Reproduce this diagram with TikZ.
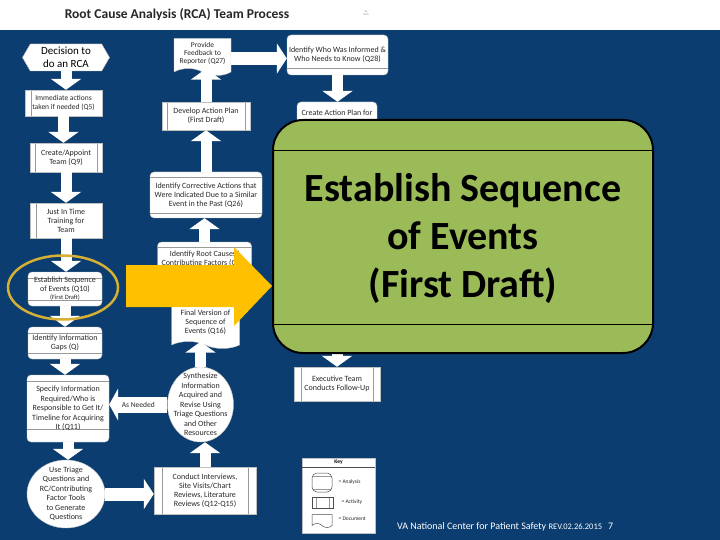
\documentclass[tikz,border=0pt]{standalone}
\usepackage{fontspec}
\setmainfont{Carlito}
\usetikzlibrary{shapes.symbols,shapes.geometric,arrows.meta,calc}
\definecolor{bgblue}{RGB}{11,61,112}
\definecolor{olivegreen}{RGB}{155,187,89}
\definecolor{goldarrow}{RGB}{255,192,0}
\definecolor{ringc}{RGB}{214,176,52}
\definecolor{txt}{RGB}{40,40,40}
\tikzset{
  box/.style={fill=white, draw=gray!50, line width=0.4pt, inner sep=1pt, font=\fontsize{8}{9}\selectfont, text=txt, align=center},
  activity/.style={box, rectangle, path picture={\draw[gray!80,line width=0.5pt]
     ([xshift=#1]path picture bounding box.north west) -- ([xshift=#1]path picture bounding box.south west)
     ([xshift=-#1]path picture bounding box.north east) -- ([xshift=-#1]path picture bounding box.south east);}},
  activity/.default=5pt,
  activityl/.style={box, rectangle, path picture={\draw[gray!80,line width=0.5pt]
     ([xshift=#1]path picture bounding box.north west) -- ([xshift=#1]path picture bounding box.south west);}},
  activityl/.default=6pt,
  analysis/.style={box, rounded corners=4pt, path picture={\draw[gray!80,line width=0.5pt]
     ([yshift=-#1]path picture bounding box.north west) -- ([yshift=-#1]path picture bounding box.north east)
     ([yshift=#1]path picture bounding box.south west) -- ([yshift=#1]path picture bounding box.south east);}},
  analysis/.default=6pt,
  analysistb/.style 2 args={box, rounded corners=4pt, path picture={\draw[gray!80,line width=0.5pt]
     ([yshift=-#1]path picture bounding box.north west) -- ([yshift=-#1]path picture bounding box.north east)
     ([yshift=#2]path picture bounding box.south west) -- ([yshift=#2]path picture bounding box.south east);}},
  analysisb/.style={box, rounded corners=4pt, path picture={\draw[gray!80,line width=0.5pt]
     ([yshift=#1]path picture bounding box.south west) -- ([yshift=#1]path picture bounding box.south east);}},
  docshape/.style={box, tape, tape bend top=none, tape bend bottom=out and in, tape bend height=7pt},
  ell/.style={fill=white, draw=gray!50, line width=0.4pt, ellipse, inner sep=0pt},
  celltext/.style={font=\fontsize{8}{9.5}\selectfont, text=txt, align=center, inner sep=0pt},
  hexa/.style={box, signal, signal to=west and east, signal pointer angle=120, font=\fontsize{11}{12.5}\selectfont, text=black},
  varrow/.style={draw=white, line width=11pt, -{Triangle[width=30pt,length=11pt]}},
  harrow/.style={draw=white, line width=13pt, -{Triangle[width=30pt,length=10pt]}},
  needarrow/.style={draw=white, line width=16pt, -{Triangle[width=32pt,length=9pt]}},
  keysym/.style={draw=black!70, line width=0.5pt}
}
\begin{document}
\begin{tikzpicture}[x=1pt,y=-1pt]
\useasboundingbox (0,0) rectangle (720,540);
\fill[white] (0,0) rectangle (720,540);
\fill[bgblue] (0,30) rectangle (720,540);

% title
\node[font=\fontsize{13.5}{15}\selectfont\bfseries, text=black!85] (title) at (177,15) {Root Cause Analysis (RCA) Team Process};
\node[font=\fontsize{2.5}{3}\selectfont, text=gray, align=center] (logo) at (366,13) {VA\\NCPS};

% left column
\node[hexa, minimum width=87pt, minimum height=27pt] (decision) at (66,57.5) {Decision to\\do an RCA};
\node[activityl, minimum width=77pt, minimum height=26pt, font=\fontsize{7.5}{9}\selectfont] (immediate) at (63.5,103) {Immediate actions\\taken if needed (Q5)};
\node[activity=5pt, minimum width=72pt, minimum height=29pt] (team) at (66,157.5) {Create/Appoint\\Team (Q9)};
\node[activityl, minimum width=72pt, minimum height=35pt] (training) at (66,220.5) {Just In Time\\Training for\\Team};
\node[analysis=6pt, minimum width=74pt, minimum height=34pt, font=\fontsize{8}{8.5}\selectfont] (establish) at (65,289) {Establish Sequence\\of Events (Q10)\\{\fontsize{6.5}{7}\selectfont(First Draft)}};
\node[analysis=6pt, minimum width=74pt, minimum height=32pt] (gaps) at (65,343) {Identify Information\\Gaps (Q)};
\node[analysistb={6pt}{13pt}, minimum width=82pt, minimum height=67pt, font=\fontsize{8}{9.5}\selectfont] (specify) at (68,408.5) {Specify Information\\Required/Who is\\Responsible to Get It/\\Timeline for Acquiring\\It (Q11)};
\node[ell, minimum width=78pt, minimum height=68pt] (triage) at (66,494) {};
\node[celltext] (triagetxt) at (66,494) {Use Triage\\Questions and\\RC/Contributing\\Factor Tools\\to Generate\\Questions};

% middle column
\node[docshape, minimum width=57pt, minimum height=37pt, font=\fontsize{7.5}{8}\selectfont] (feedback) at (202.5,53.5) {Provide\\Feedback to\\Reporter (Q27)};
\node[activity=5pt, minimum width=88pt, minimum height=28pt] (devplan) at (206,116) {Develop Action Plan\\(First Draft)};
\node[analysis=5pt, minimum width=112pt, minimum height=46pt] (corrective) at (206,195) {Identify Corrective Actions that\\Were Indicated Due to a Similar\\Event in the Past (Q26)};
\node[analysis=5pt, minimum width=94pt, minimum height=34pt] (rootcause) at (204.5,259) {Identify Root Causes/\\Contributing Factors (Q17)};
\node[docshape, minimum width=68pt, minimum height=46pt] (finalver) at (205.5,322) {Final Version of\\Sequence of\\Events (Q16)};
\node[ell, minimum width=66pt, minimum height=75pt] (synth) at (200.5,404.5) {};
\node[celltext] (synthtxt) at (200.5,404.5) {Synthesize\\Information\\Acquired and\\Revise Using\\Triage Questions\\and Other\\Resources};
\node[activity=8pt, minimum width=102pt, minimum height=47pt] (conduct) at (205,490.5) {Conduct Interviews,\\Site Visits/Chart\\Reviews, Literature\\Reviews (Q12-Q15)};

% right column
\node[analysisb=7pt, minimum width=101pt, minimum height=40pt] (who) at (337.5,55) {Identify Who Was Informed \&\\Who Needs to Know (Q28)};
\node[box, rounded corners=4pt, minimum width=80pt, minimum height=38pt] (create) at (337,121) {};
\node[celltext] (createtxt) at (337,113) {Create Action Plan for};
\node[activity=7pt, minimum width=86pt, minimum height=34pt] (leader) at (337,384) {Executive Team\\Conducts Follow-Up};

% arrows left column
\draw[varrow] (decision.south) -- (decision.south |- immediate.north);
\draw[varrow] (immediate.south) -- (immediate.south |- team.north);
\draw[varrow] (team.south) -- (team.south |- training.north);
\draw[varrow] (training.south) -- (training.south |- establish.north);
\draw[varrow] (establish.south) -- (establish.south |- gaps.north);
\draw[varrow] (gaps.south) -- (gaps.south |- specify.north);
\draw[varrow] (specify.south) -- (specify.south |- triage.north);
\draw[harrow] (triage.east) -- (triage.east -| conduct.west);
% middle column
\draw[varrow] (conduct.north) -- (conduct.north |- synth.south);
\draw[varrow] (synth.north) -- (synth.north |- finalver.south);
\draw[varrow] (finalver.north) -- (finalver.north |- rootcause.south);
\draw[varrow] (rootcause.north) -- (rootcause.north |- corrective.south);
\draw[varrow] (corrective.north) -- (corrective.north |- devplan.south);
\draw[varrow] (devplan.north) -- (devplan.north |- feedback.south);
\draw[harrow] ([yshift=-5pt]feedback.east) -- ([yshift=-5pt]feedback.east -| who.west);
\draw[needarrow] (synth.west) -- (synth.west -| specify.east) node[pos=0.5, text=txt, font=\fontsize{7.5}{8}\selectfont] (needed) {As Needed};
% right column
\draw[varrow] (who.south) -- (who.south |- create.north);
\draw[varrow] (create.south) -- (create.south |- leader.north);

% key
\node[box, minimum width=73pt, minimum height=75pt, anchor=north west] (key) at (302,458) {};
\node[font=\fontsize{5.5}{6}\selectfont\bfseries] (keytitle) at (338.5,462.5) {Key};
\draw[black!70, line width=0.5pt] (key.west |- 0,467) -- (key.east |- 0,467);
\node[analysis=3pt, keysym, rounded corners=5pt, minimum width=20pt, minimum height=19pt] (kan) at (322,482.5) {};
\node[activity=4pt, keysym, minimum width=21pt, minimum height=11pt] (kac) at (322.5,502.5) {};
\node[docshape, keysym, minimum width=20pt, minimum height=13pt, tape bend height=4pt] (kdo) at (322,519) {};
\node[anchor=west, font=\fontsize{5.5}{6}\selectfont, text=txt] (kanl) at (335,482.5) {= Analysis};
\node[anchor=west, font=\fontsize{5.5}{6}\selectfont, text=txt] (kacl) at (338,502.5) {= Activity};
\node[anchor=west, font=\fontsize{5.5}{6}\selectfont, text=txt] (kdol) at (335,519) {= Document};

% highlight ring
\node[draw=ringc, line width=2.5pt, ellipse, minimum width=110pt, minimum height=64pt] (ring) at (63,287.5) {};

% yellow arrow
\fill[goldarrow] (126,265) -- (234,265) -- (234,247) -- (272,286) -- (234,326) -- (234,307) -- (126,307) -- cycle;

% green zoom box
\node[draw=black, line width=2pt, fill=olivegreen, rounded corners=30pt, minimum width=380pt, minimum height=233pt,
  path picture={\draw[black, line width=1pt]
     ([yshift=-31pt]path picture bounding box.north west) -- ([yshift=-31pt]path picture bounding box.north east)
     ([yshift=29pt]path picture bounding box.south west) -- ([yshift=29pt]path picture bounding box.south east);}] (green) at (463,236.5) {};
\node[font=\fontsize{40}{48}\selectfont\bfseries, text=black, align=center] (greentxt) at (463,238) {Establish Sequence\\of Events\\(First Draft)};

% footer
\node[anchor=base west, text=white, font=\fontsize{10}{11}\selectfont, inner sep=0pt] (footer) at (397,529) {VA National Center for Patient Safety {\fontsize{8.5}{9}\selectfont REV.02.26.2015}\hspace{6pt}7};
\end{tikzpicture}
\end{document}
